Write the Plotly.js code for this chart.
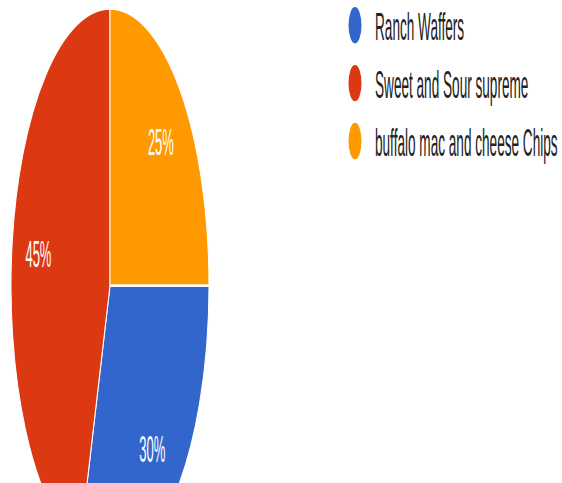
<!DOCTYPE html>
<html>
<head>
<meta charset="utf-8">
<script src="https://cdn.plot.ly/plotly-3.0.1.min.js"></script>
<style>
  html, body { margin: 0; padding: 0; background: #ffffff; overflow: hidden; width: 562px; height: 483px; }
  #chart { width: 562px; height: 204px; transform: scale(1, 2.8); transform-origin: 0 0; }
</style>
</head>
<body>
<div id="chart"></div>
<script>
const categories = ["Ranch Waffers", "Sweet and Sour supreme", "buffalo mac and cheese Chips"];
const values = [30, 45, 25];
const colors = ["#3366cc", "#dc3912", "#ff9900"];

const FONT = "Arial, 'Liberation Sans', sans-serif";
const pieDomain = { x: [11 / 562, 209 / 562], y: [0, 1] };

// filled slices
const pieTrace = {
  type: "pie",
  labels: categories,
  values: values,
  sort: false,
  direction: "clockwise",
  rotation: 90,
  marker: { colors: colors, line: { color: "#ffffff", width: 1 } },
  textinfo: "none",
  domain: pieDomain,
  showlegend: false,
  hoverinfo: "skip"
};

// same slices, transparent, only carrying the percentage labels out toward the rim
const labelTrace = {
  type: "pie",
  labels: categories,
  values: values,
  sort: false,
  direction: "clockwise",
  rotation: 90,
  hole: 0.46,
  marker: { colors: categories.map(() => "rgba(0,0,0,0)"), line: { width: 0 } },
  textinfo: "percent",
  texttemplate: "%{percent:.0%}",
  textposition: "inside",
  insidetextorientation: "horizontal",
  insidetextfont: { family: FONT, size: 13, color: "#ffffff" },
  domain: pieDomain,
  showlegend: false,
  hoverinfo: "skip"
};

const legendTraces = categories.map((name, i) => ({
  type: "scatter",
  mode: "markers",
  x: [null],
  y: [null],
  name: name,
  marker: { symbol: "circle", size: 13, color: colors[i] },
  showlegend: true,
  hoverinfo: "skip"
}));

const layout = {
  width: 562,
  height: 204,
  margin: { l: 0, r: 0, t: 0, b: 0, autoexpand: false },
  paper_bgcolor: "#ffffff",
  plot_bgcolor: "#ffffff",
  showlegend: true,
  xaxis: { visible: false },
  yaxis: { visible: false },
  legend: {
    x: 335 / 562,
    xanchor: "left",
    y: 1.031,
    yanchor: "top",
    font: { family: FONT, size: 13.6, color: "#222222" },
    bgcolor: "rgba(0,0,0,0)",
    itemclick: false,
    itemdoubleclick: false
  }
};

Plotly.newPlot("chart", [pieTrace, labelTrace, ...legendTraces], layout, { staticPlot: true, displayModeBar: false });
</script>
</body>
</html>
